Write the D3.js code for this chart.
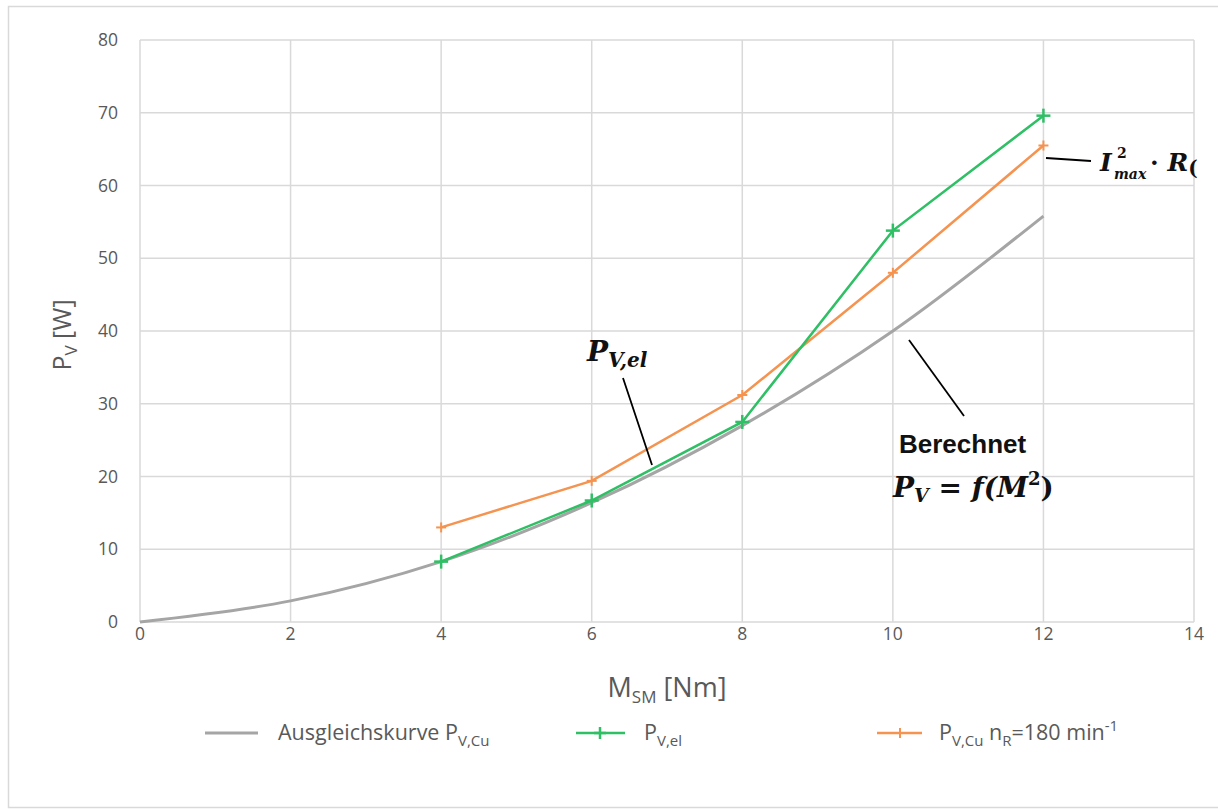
<!DOCTYPE html>
<html><head><meta charset="utf-8">
<script src="https://cdn.jsdelivr.net/npm/d3@7"></script>
<style>body{margin:0;background:#fff}svg{display:block}</style>
</head><body>
<svg id="c" width="1218" height="809"></svg>
<script>
const xTicks = [0,2,4,6,8,10,12,14];
const yTicks = [0,10,20,30,40,50,60,70,80];
const fitX = [0,2,4,6,8,10,12];
const fitY = [0,2.9,8.3,16.4,27.0,40.0,55.8];
const elX = [4,6,8,10,12];
const elY = [8.3,16.7,27.5,53.8,69.6];
const cuX = [4,6,8,10,12];
const cuY = [13.0,19.4,31.2,48.0,65.5];

const svg = d3.select('#c');
const x = d3.scaleLinear().domain([0,14]).range([140,1194]);
const y = d3.scaleLinear().domain([0,80]).range([622,40]);
const grid='#d9d9d9', tc='#595959';
const gray='#a5a5a5', green='#2fbf65', orange='#f59350';

svg.append('rect').attr('x',8.5).attr('y',6.5).attr('width',1240).attr('height',801).attr('fill','none').attr('stroke','#d9d9d9').attr('stroke-width',1.5);

// grid
svg.append('g').selectAll('line').data(yTicks).join('line')
 .attr('x1',x(0)).attr('x2',x(14)).attr('y1',d=>y(d)).attr('y2',d=>y(d)).attr('stroke',grid).attr('stroke-width',1.5);
svg.append('g').selectAll('line').data(xTicks).join('line')
 .attr('y1',y(0)).attr('y2',y(80)).attr('x1',d=>x(d)).attr('x2',d=>x(d)).attr('stroke',grid).attr('stroke-width',1.5);

const font='"Open Sans", "Noto Sans", sans-serif';
svg.append('g').selectAll('text').data(yTicks).join('text')
 .attr('x',118).attr('y',d=>y(d)).attr('dy','0.35em').attr('text-anchor','end')
 .attr('font-family',font).attr('font-size',17.5).attr('fill',tc).text(d=>d);
svg.append('g').selectAll('text').data(xTicks).join('text')
 .attr('x',d=>x(d)).attr('y',634).attr('dy','0.35em').attr('text-anchor','middle')
 .attr('font-family',font).attr('font-size',17.5).attr('fill',tc).text(d=>d);

// axis titles
const yt = svg.append('text').attr('transform','translate(71,335) rotate(-90)').attr('text-anchor','middle')
 .attr('font-family',font).attr('font-size',25).attr('fill',tc);
yt.append('tspan').text('P');
yt.append('tspan').attr('font-size',17).attr('dy',6).text('V');
yt.append('tspan').attr('dy',-6).text(' [W]');
const xt = svg.append('text').attr('x',667).attr('y',697).attr('text-anchor','middle')
 .attr('font-family',font).attr('font-size',27).attr('fill',tc);
xt.append('tspan').text('M');
xt.append('tspan').attr('font-size',17).attr('dy',6).text('SM');
xt.append('tspan').attr('dy',-6).text(' [Nm]');

// lines
const fit = fitX.map((d,i)=>[d,fitY[i]]);
const el = elX.map((d,i)=>[d,elY[i]]);
const cu = cuX.map((d,i)=>[d,cuY[i]]);
svg.append('path').datum(fit).attr('d',d3.line().x(d=>x(d[0])).y(d=>y(d[1])).curve(d3.curveCatmullRom.alpha(0.5)))
 .attr('fill','none').attr('stroke',gray).attr('stroke-width',3);
const lin = d3.line().x(d=>x(d[0])).y(d=>y(d[1]));
svg.append('path').datum(cu).attr('d',lin).attr('fill','none').attr('stroke',orange).attr('stroke-width',2.5);
svg.append('path').datum(el).attr('d',lin).attr('fill','none').attr('stroke',green).attr('stroke-width',2.5);

function plus(g,cx,cy,s,col,w){
  g.append('line').attr('x1',cx-s).attr('x2',cx+s).attr('y1',cy).attr('y2',cy).attr('stroke',col).attr('stroke-width',w);
  g.append('line').attr('x1',cx).attr('x2',cx).attr('y1',cy-s).attr('y2',cy+s).attr('stroke',col).attr('stroke-width',w);
}
const mk = svg.append('g');
cu.forEach(d=>plus(mk,x(d[0]),y(d[1]),5,orange,2));
el.forEach(d=>plus(mk,x(d[0]),y(d[1]),7,green,2.5));

// annotations
const serif='"DejaVu Serif", "Liberation Serif", serif';
function ann(x1,y1,x2,y2){svg.append('line').attr('x1',x1).attr('y1',y1).attr('x2',x2).attr('y2',y2).attr('stroke','#000').attr('stroke-width',1.8);}
ann(623,378,652,465);
ann(909,340,964,416);
ann(1046,158,1091,161);

function mtext(xp,yp,size,style){
  return svg.append('text').attr('x',xp).attr('y',yp).attr('font-family',serif).attr('font-weight','bold')
    .attr('font-style',style||'italic').attr('font-size',size).attr('fill','#111');
}
const a1 = mtext(587,361,28);
a1.append('tspan').text('P');
a1.append('tspan').attr('font-size',20).attr('dy',6).text('V,el');

svg.append('text').attr('x',899).attr('y',453).attr('font-family','"Liberation Sans", Arial, sans-serif').attr('font-weight','bold').attr('font-size',26).attr('fill','#111').text('Berechnet');
const a2 = mtext(893,497,28);
a2.append('tspan').text('P');
a2.append('tspan').attr('font-size',19).attr('dy',5).text('V');
a2.append('tspan').attr('dy',-5).attr('font-style','normal').text(' = ');
a2.append('tspan').text('f(M');
a2.append('tspan').attr('font-size',18).attr('dy',-12).attr('font-style','normal').text('2');
a2.append('tspan').attr('dy',12).attr('font-style','normal').text(')');

// I²max · R(
mtext(1100,171,25).text('I');
mtext(1117,158,14,'normal').text('2');
mtext(1114,179,14).text('max');
const a3 = mtext(1150,171,25);
a3.append('tspan').attr('font-style','normal').text('· ');
a3.append('tspan').text('R');
a3.append('tspan').attr('font-size',20).attr('dy',4).attr('font-style','normal').text('(');

// legend
const lg = svg.append('g');
const ly = 733;
lg.append('line').attr('x1',205).attr('x2',258).attr('y1',ly).attr('y2',ly).attr('stroke',gray).attr('stroke-width',3);
lg.append('line').attr('x1',576).attr('x2',625).attr('y1',ly).attr('y2',ly).attr('stroke',green).attr('stroke-width',2.5);
plus(lg,600,ly,6,green,2.5);
lg.append('line').attr('x1',877).attr('x2',922).attr('y1',ly).attr('y2',ly).attr('stroke',orange).attr('stroke-width',2.5);
plus(lg,900,ly,5,orange,2);

function legText(xp, parts){
  const t = lg.append('text').attr('x',xp).attr('y',ly+7).attr('font-family',font).attr('font-size',21.5).attr('fill',tc);
  parts.forEach(p=>{
    const s=t.append('tspan').text(p.t);
    if(p.sub){s.attr('font-size',15).attr('dy',p.sub);}
    if(p.dy){s.attr('dy',p.dy);}
  });
}
legText(278,[{t:'Ausgleichskurve P'},{t:'V,Cu',sub:6}]);
legText(644,[{t:'P'},{t:'V,el',sub:6}]);
legText(939,[{t:'P'},{t:'V,Cu',sub:6},{t:' n',dy:-6},{t:'R',sub:6},{t:'=180 min',dy:-6},{t:'-1',sub:-9}]);
</script>
</body></html>
